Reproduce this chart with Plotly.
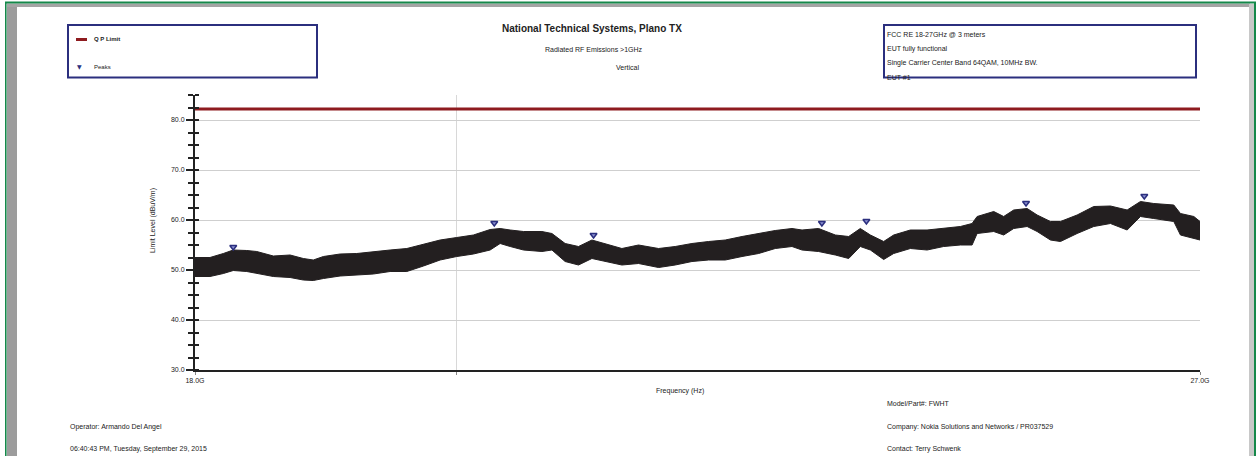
import math
import plotly.graph_objects as go

# ---------------- data ----------------
freq_ghz = [18.000, 18.109, 18.207, 18.280, 18.380, 18.454, 18.578, 18.704, 18.804, 18.880,
            18.957, 19.085, 19.214, 19.343, 19.474, 19.606, 19.738, 19.871, 20.005, 20.140,
            20.276, 20.358, 20.441, 20.551,
            20.704, 20.788, 20.899, 21.012, 21.126, 21.240, 21.383, 21.527, 21.702, 21.848,
            21.996, 22.144, 22.294, 22.445, 22.596, 22.748, 22.902, 22.995, 23.149, 23.306, 23.432,
            23.542, 23.638, 23.765, 23.861, 24.022, 24.185, 24.347, 24.512, 24.628, 24.678,
            24.844, 24.944, 25.045, 25.181, 25.283, 25.419, 25.522, 25.694, 25.867, 26.042,
            26.218, 26.359, 26.501, 26.716, 26.788, 26.933, 27.000]
upper_dbuv = [52.5, 52.5, 53.3, 54.0, 53.9, 53.7, 52.8, 53.0, 52.3, 52.0,
              52.7, 53.2, 53.3, 53.7, 54.0, 54.3, 55.2, 56.0, 56.5, 57.0,
              58.1, 58.3, 58.0, 57.7,
              57.7, 57.3, 55.3, 54.7, 56.0, 55.3, 54.3, 55.0, 54.3, 54.7,
              55.3, 55.7, 56.0, 56.7, 57.3, 57.9, 58.3, 58.0, 58.3, 57.0, 56.7,
              58.3, 57.0, 55.7, 57.0, 58.0, 58.0, 58.3, 58.7, 59.3, 60.7,
              61.7, 60.7, 62.0, 62.3, 61.0, 59.7, 59.7, 61.0, 62.7, 62.8,
              62.0, 63.7, 63.3, 63.0, 61.3, 60.7, 59.7]
lower_dbuv = [48.7, 48.7, 49.3, 49.9, 49.7, 49.3, 48.7, 48.5, 48.0, 47.9,
              48.3, 48.8, 49.0, 49.2, 49.7, 49.7, 50.8, 52.0, 52.7, 53.2,
              54.0, 55.3, 54.7, 54.0,
              53.7, 54.0, 51.7, 51.0, 52.3, 51.7, 51.0, 51.3, 50.5, 51.0,
              51.7, 52.0, 52.0, 52.7, 53.3, 54.3, 54.7, 54.0, 53.7, 53.0, 52.3,
              54.7, 54.0, 52.1, 53.3, 54.3, 54.0, 54.7, 55.0, 55.0, 57.3,
              57.7, 57.0, 58.3, 58.7, 57.7, 56.0, 55.7, 57.3, 58.7, 59.3,
              58.0, 60.7, 60.3, 59.7, 57.0, 56.3, 56.0]

peak_freq_ghz = [18.28, 20.31, 21.14, 23.18, 23.60, 25.17, 26.40]
peak_level = [54.6, 59.4, 57.0, 59.4, 59.8, 63.4, 64.8]

limit_freq_ghz = [18.0, 27.0]
limit_level = [82.2, 82.2]

y_tick_vals = [30, 40, 50, 60, 70, 80]
x_tick_vals = [18, 20, 27]
x_tick_text = ["18.0G", "", "27.0G"]

# ---------------- layout helpers ----------------
W, H = 1259, 456
L, R, T, B = 195, 59, 95, 86
PW, PH = W - L - R, H - T - B


def px(x):
    return (x - L) / PW


def py(y):
    return (H - B - y) / PH


FONT = "Liberation Sans Narrow, Liberation Sans, Arial, sans-serif"
NAVY = "#2b2f7e"
RED = "#8e1b1f"
BAND = "#231f20"

fig = go.Figure()

fig.add_trace(go.Scatter(x=freq_ghz, y=lower_dbuv, mode="lines",
                         line=dict(color=BAND, width=1), showlegend=False, hoverinfo="skip"))
fig.add_trace(go.Scatter(x=freq_ghz, y=upper_dbuv, mode="lines", fill="tonexty",
                         fillcolor=BAND, line=dict(color=BAND, width=1),
                         name="Trace", showlegend=False))
fig.add_trace(go.Scatter(x=limit_freq_ghz, y=limit_level, mode="lines", yaxis="y2",
                         line=dict(color=RED, width=3), name="QP Limit", showlegend=False))
fig.add_trace(go.Scatter(x=peak_freq_ghz, y=peak_level, mode="markers",
                         marker=dict(symbol="triangle-down", size=6, color="#8a8fd0",
                                     line=dict(color=NAVY, width=1.5)),
                         name="Peaks", showlegend=False))

yax = dict(range=[30, 85], tickvals=y_tick_vals, tickformat=".1f",
           showline=True, linecolor="#222222", linewidth=2,
           ticks="outside", ticklen=7, tickwidth=1.5, tickcolor="#222222",
           showgrid=True, gridcolor="#cfcfcf", gridwidth=1,
           tickfont=dict(family=FONT, size=7, color="#222222"),
           zeroline=False, fixedrange=True,
           minor=dict(dtick=2.5, tick0=0, ticks="outside", ticklen=5,
                      tickwidth=1.5, tickcolor="#222222", showgrid=False))

fig.update_layout(
    width=W, height=H,
    margin=dict(l=L, r=R, t=T, b=B, autoexpand=False),
    paper_bgcolor="white", plot_bgcolor="white",
    showlegend=False,
    xaxis=dict(type="log", range=[math.log10(18), math.log10(27)],
               tickvals=x_tick_vals, ticktext=x_tick_text,
               showline=True, linecolor="#222222", linewidth=2,
               ticks="outside", ticklen=3, tickcolor="#888888",
               showgrid=True, gridcolor="#d8d8d8", gridwidth=1,
               tickfont=dict(family=FONT, size=7, color="#222222"),
               zeroline=False, fixedrange=True),
    yaxis=yax,
    yaxis2=dict(overlaying="y", side="left", range=[30, 85], showgrid=False,
                showticklabels=False, showline=False, zeroline=False,
                tickvals=[], ticks="",
                minor=dict(dtick=2.5, tick0=0, ticks="inside", ticklen=4,
                           tickwidth=1.5, tickcolor="#222222"),
                fixedrange=True),
)

shapes = []
# page frame (bevel strips + green border)
shapes.append(dict(type="line", xref="paper", yref="paper", x0=px(12), x1=px(12),
                   y0=py(460), y1=py(4), line=dict(color="#9c9c9c", width=10)))
shapes.append(dict(type="line", xref="paper", yref="paper", x0=px(7), x1=px(1250),
                   y0=py(5.2), y1=py(5.2), line=dict(color="#a4a4a4", width=3.5)))
shapes.append(dict(type="line", xref="paper", yref="paper", x0=px(1251.5), x1=px(1251.5),
                   y0=py(460), y1=py(4), line=dict(color="#c8c8c8", width=5)))
shapes.append(dict(type="line", xref="paper", yref="paper", x0=px(5.8), x1=px(5.8),
                   y0=py(460), y1=py(2), line=dict(color="#15884a", width=1.6)))
shapes.append(dict(type="line", xref="paper", yref="paper", x0=px(5), x1=px(1256),
                   y0=py(2.5), y1=py(2.5), line=dict(color="#15884a", width=2)))
shapes.append(dict(type="line", xref="paper", yref="paper", x0=px(1255), x1=px(1255),
                   y0=py(460), y1=py(2), line=dict(color="#15884a", width=2)))
# legend box
shapes.append(dict(type="rect", xref="paper", yref="paper", x0=px(68), x1=px(317),
                   y0=py(77.5), y1=py(25), line=dict(color=NAVY, width=2)))
shapes.append(dict(type="line", xref="paper", yref="paper", x0=px(76), x1=px(87),
                   y0=py(39.5), y1=py(39.5), line=dict(color=RED, width=3)))
# info box
shapes.append(dict(type="rect", xref="paper", yref="paper", x0=px(884), x1=px(1196),
                   y0=py(77.5), y1=py(25), line=dict(color=NAVY, width=2)))
for s in shapes:
    s["layer"] = "above"
fig.update_layout(shapes=shapes)


def txt(x, y, s, size=7, anchor="left", bold=False, color="#222222", angle=0, family=FONT):
    fig.add_annotation(x=px(x), y=py(y), xref="paper", yref="paper", text=s,
                       showarrow=False, xanchor=anchor, yanchor="middle",
                       textangle=angle,
                       font=dict(family=family, size=size, color=color,
                                 weight="bold" if bold else "normal"))


txt(592, 28, "National Technical Systems, Plano TX", size=10, anchor="center", bold=True,
    family="Liberation Sans, Arial, sans-serif")
txt(594, 49, "Radiated RF Emissions >1GHz", anchor="center")
txt(627, 67, "Vertical", anchor="center")

txt(92, 39.5, "Q P Limit", size=6, bold=True)
txt(79.5, 66, "▼", size=6, anchor="center", color=NAVY, family="DejaVu Sans")
txt(92, 66.5, "Peaks", size=6)

txt(885, 35, "FCC RE 18-27GHz @ 3 meters")
txt(885, 49, "EUT fully functional")
txt(885, 63, "Single Carrier Center Band 64QAM, 10MHz BW.")
txt(885, 77, "EUT #1")

txt(153, 221, "Limit Level (dBuV/m)", anchor="center", angle=-90)
txt(680, 391, "Frequency (Hz)", anchor="center")

txt(68, 427, "Operator: Armando Del Angel")
txt(68, 449, "06:40:43 PM, Tuesday, September 29, 2015")
txt(885, 403, "Model/Part#: FWHT")
txt(885, 427, "Company: Nokia Solutions and Networks / PR037529")
txt(885, 449, "Contact: Terry Schwenk")

fig.write_html("out.html",
               config={"displayModeBar": False},
               post_script="document.body.style.margin='0';document.body.style.overflow='hidden';")
